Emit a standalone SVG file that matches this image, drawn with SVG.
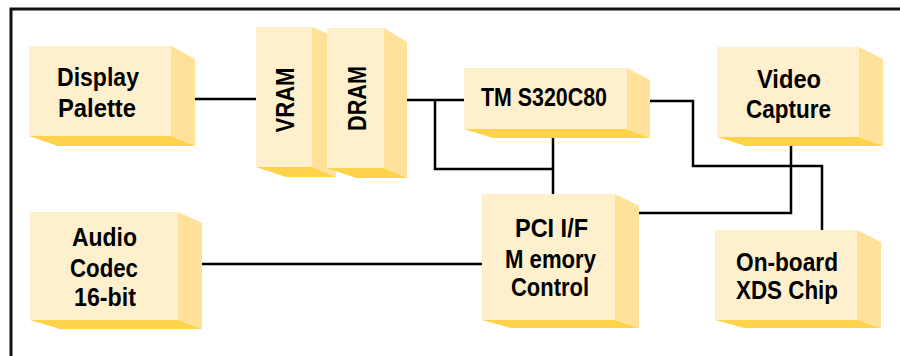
<svg xmlns="http://www.w3.org/2000/svg" width="900" height="356" viewBox="0 0 900 356">
<style>
.f{fill:#FEF0CD}
.s{fill:#FFE19A}
.b{fill:#FFD24C}
.w{stroke:#000;stroke-width:2.5;fill:none}
text{font-family:"Liberation Sans",Arial,sans-serif;font-weight:bold;font-size:25px;fill:#000;text-anchor:middle}
</style>
<rect width="900" height="356" fill="#fff"/>
<path d="M11 356V9H900" fill="none" stroke="#111" stroke-width="3"/>
<g id="connectors" class="w">
<path d="M195 99H256"/>
<path d="M407 100H465"/>
<path d="M435 100V169H553"/>
<path d="M553 138V195"/>
<path d="M650 101H693V166H822V231"/>
<path d="M791 146V213H639"/>
<path d="M202 264H483"/>
</g>
<g id="display-palette">
<polygon class="s" points="171,46 195,59 195,146 171,136"/>
<polygon class="b" points="29,136 171,136 195,146 58,146"/>
<rect class="f" x="29" y="46" width="142" height="90"/>
<text x="98" y="86" textLength="82" lengthAdjust="spacingAndGlyphs">Display</text>
<text x="97" y="117" textLength="78" lengthAdjust="spacingAndGlyphs">Palette</text>
</g>
<g id="vram">
<polygon class="s" points="312,27 336,37 336,177 312,167"/>
<polygon class="b" points="256,167 312,167 336,177 286,177"/>
<rect class="f" x="256" y="27" width="56" height="140"/>
<text transform="translate(294 100) rotate(-90)" textLength="65" lengthAdjust="spacingAndGlyphs">VRAM</text>
</g>
<g id="dram">
<polygon class="s" points="384,28 407,42 407,178 384,168"/>
<polygon class="b" points="327,168 384,168 407,178 356,178"/>
<rect class="f" x="327" y="28" width="57" height="140"/>
<text transform="translate(366 98.5) rotate(-90)" textLength="65" lengthAdjust="spacingAndGlyphs">DRAM</text>
</g>
<g id="tms320c80">
<polygon class="s" points="627,68 650,80 650,138 627,129"/>
<polygon class="b" points="464,129 627,129 650,138 493,138"/>
<rect class="f" x="464" y="68" width="163" height="61"/>
<text x="544" y="106" textLength="126" lengthAdjust="spacingAndGlyphs">TM S320C80</text>
</g>
<g id="video-capture">
<polygon class="s" points="859,47 883,59 883,146 859,137"/>
<polygon class="b" points="717,137 859,137 883,146 746,146"/>
<rect class="f" x="717" y="47" width="142" height="90"/>
<text x="789" y="88" textLength="64" lengthAdjust="spacingAndGlyphs">Video</text>
<text x="788.5" y="118" textLength="85" lengthAdjust="spacingAndGlyphs">Capture</text>
</g>
<g id="audio-codec">
<polygon class="s" points="178,212 202,223 202,329 178,320"/>
<polygon class="b" points="30,320 178,320 202,329 60,329"/>
<rect class="f" x="30" y="212" width="148" height="108"/>
<text x="104.5" y="246" textLength="65" lengthAdjust="spacingAndGlyphs">Audio</text>
<text x="104" y="277" textLength="68" lengthAdjust="spacingAndGlyphs">Codec</text>
<text x="105" y="306" textLength="62" lengthAdjust="spacingAndGlyphs">16-bit</text>
</g>
<g id="pci-memory-control">
<polygon class="s" points="615,194 639,206 639,328 615,320"/>
<polygon class="b" points="482,320 615,320 639,328 511,328"/>
<rect class="f" x="482" y="194" width="133" height="126"/>
<text x="551.5" y="237" textLength="73" lengthAdjust="spacingAndGlyphs">PCI I/F</text>
<text x="550.5" y="268" textLength="91" lengthAdjust="spacingAndGlyphs">M emory</text>
<text x="550" y="296" textLength="78" lengthAdjust="spacingAndGlyphs">Control</text>
</g>
<g id="onboard-xds-chip">
<polygon class="s" points="857,230 881,242 881,328 857,320"/>
<polygon class="b" points="715,320 857,320 881,328 744,328"/>
<rect class="f" x="715" y="230" width="142" height="90"/>
<text x="787" y="271" textLength="102" lengthAdjust="spacingAndGlyphs">On-board</text>
<text x="787" y="299" textLength="102" lengthAdjust="spacingAndGlyphs">XDS Chip</text>
</g>
</svg>
